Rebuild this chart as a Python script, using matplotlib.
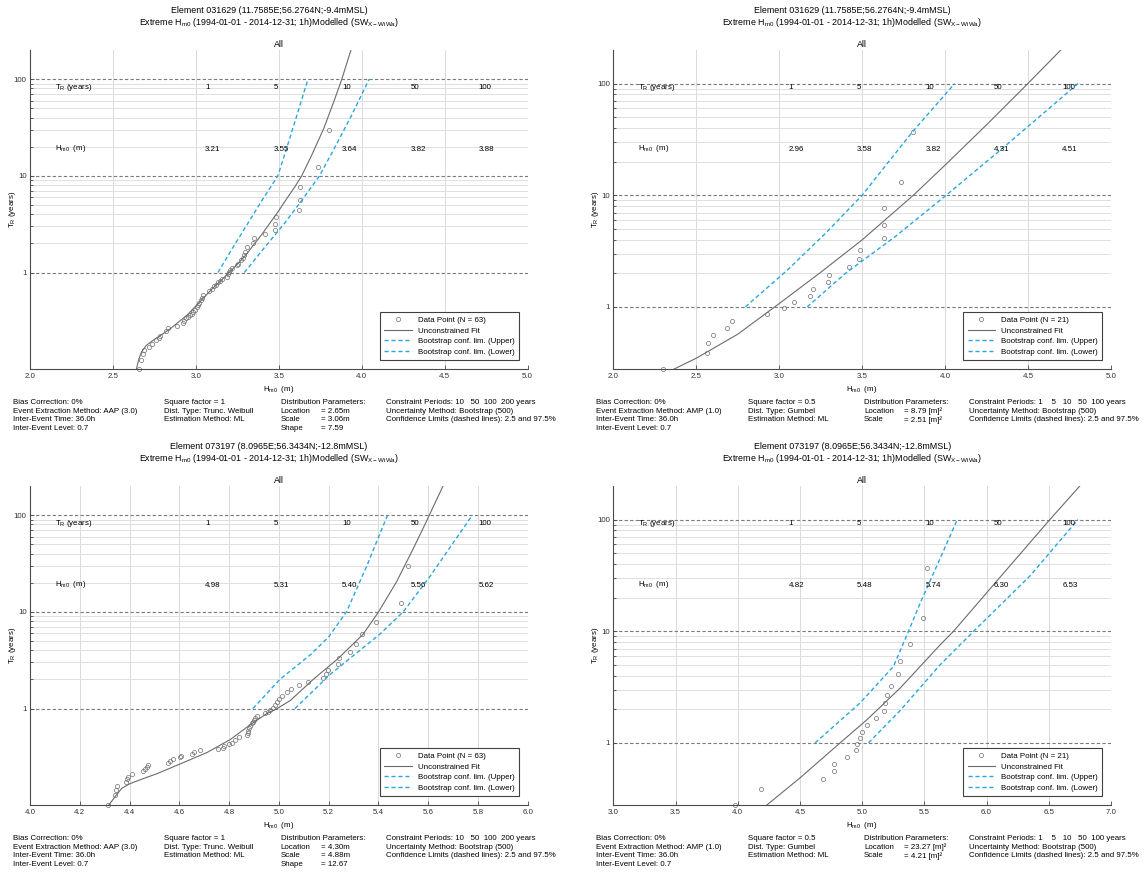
import matplotlib.pyplot as plt
from matplotlib.ticker import FixedLocator, NullFormatter

plt.rcParams['font.family'] = ['Liberation Sans', 'DejaVu Sans']
plt.rcParams['mathtext.default'] = 'regular'

FS = 5.7
FS_TITLE = 6.4
GRAY = '#6b6b6b'
BLUE = '#2aa6e0'

# return period table shown inside every panel
periods = ['1', '5', '10', '50', '100']

# ---- top left: element 031629, truncated Weibull ----
tl_hs = [2.657, 2.671, 2.679, 2.688, 2.716, 2.736, 2.762, 2.776, 2.786, 2.817, 2.833, 2.887, 2.921, 2.927,
         2.940, 2.950, 2.964, 2.974, 2.980, 2.994, 3.008, 3.014, 3.020, 3.028, 3.036, 3.044, 3.081, 3.095,
         3.109, 3.121, 3.135, 3.145, 3.159, 3.185, 3.196, 3.202, 3.206, 3.216, 3.246, 3.256, 3.270, 3.282,
         3.292, 3.296, 3.306, 3.343, 3.351, 3.417, 3.478, 3.478, 3.484, 3.623, 3.625, 3.627, 3.734, 3.802]
tl_tr = [0.100, 0.124, 0.143, 0.157, 0.170, 0.181, 0.199, 0.210, 0.223, 0.251, 0.265, 0.282, 0.303, 0.318,
         0.338, 0.344, 0.362, 0.377, 0.392, 0.414, 0.441, 0.461, 0.488, 0.515, 0.548, 0.583, 0.641, 0.682,
         0.721, 0.750, 0.791, 0.822, 0.863, 0.910, 0.962, 1.01, 1.07, 1.12, 1.20, 1.24, 1.35, 1.42,
         1.51, 1.64, 1.84, 2.03, 2.27, 2.51, 2.75, 3.16, 3.72, 4.42, 5.65, 7.71, 12.4, 29.9]
tl_fit_h = [2.641, 2.655, 2.672, 2.70, 2.75, 2.80, 2.85, 2.90, 2.95, 3.00, 3.05, 3.10, 3.15, 3.20,
            3.25, 3.30, 3.35, 3.40, 3.45, 3.50, 3.55, 3.60, 3.638, 3.70, 3.77, 3.83, 3.88, 3.935]
tl_fit_t = [0.100, 0.126, 0.151, 0.176, 0.204, 0.232, 0.266, 0.313, 0.367, 0.452, 0.556, 0.684, 0.822, 1.0,
            1.22, 1.51, 1.95, 2.51, 3.31, 4.37, 5.89, 7.85, 10.0, 16.6, 30.6, 57.5, 100, 200]
tl_up_h = [3.133, 3.22, 3.31, 3.40, 3.494, 3.55, 3.61, 3.676]
tl_up_t = [1, 1.78, 3.16, 5.62, 10, 20, 42.7, 100]
tl_lo_h = [3.292, 3.41, 3.53, 3.64, 3.745, 3.84, 3.94, 4.045]
tl_lo_t = [1, 1.78, 3.16, 5.62, 10, 20, 42.7, 100]
tl_levels = ['3.21', '3.55', '3.64', '3.82', '3.88']

# ---- top right: element 031629, Gumbel ----
tr_hs = [2.302, 2.565, 2.573, 2.603, 2.685, 2.714, 2.927, 3.026, 3.089, 3.185, 3.202, 3.296, 3.300,
         3.421, 3.482, 3.486, 3.629, 3.631, 3.633, 3.736, 3.805]
amp_tr = [0.277, 0.384, 0.473, 0.560, 0.648, 0.747, 0.857, 0.973, 1.10, 1.26, 1.44, 1.66, 1.93,
          2.26, 2.68, 3.25, 4.10, 5.40, 7.72, 13.1, 37.2]
tr_fit_h = [2.363, 2.5, 2.75, 3.0, 3.25, 3.5, 3.809, 4.0, 4.25, 4.499, 4.698]
tr_fit_t = [0.276, 0.347, 0.569, 1.07, 2.04, 3.98, 10, 18.6, 42.7, 100, 200]
tr_up_h = [2.796, 3.05, 3.28, 3.5, 3.65, 3.805, 4.058]
tr_up_t = [1, 2.14, 4.57, 10, 19.1, 37.2, 100]
tr_lo_h = [3.169, 3.4, 3.7, 4.007, 4.338, 4.802]
tr_lo_t = [1, 2.0, 4.27, 10, 25.7, 100]
tr_levels = ['2.96', '3.58', '3.82', '4.31', '4.51']

# ---- bottom left: element 073197, truncated Weibull ----
bl_hs = [4.313, 4.342, 4.346, 4.349, 4.384, 4.389, 4.392, 4.411, 4.456, 4.462, 4.470, 4.474, 4.555, 4.561,
         4.574, 4.604, 4.605, 4.651, 4.658, 4.684, 4.754, 4.775, 4.780, 4.798, 4.812, 4.822, 4.841, 4.872,
         4.875, 4.877, 4.881, 4.885, 4.891, 4.895, 4.899, 4.905, 4.912, 4.946, 4.955, 4.966, 4.976, 4.986,
         4.992, 4.999, 5.013, 5.033, 5.049, 5.082, 5.116, 5.176, 5.188, 5.197, 5.236, 5.240, 5.287, 5.311,
         5.334, 5.389, 5.492, 5.520]
bl_tr = [0.100, 0.127, 0.144, 0.160, 0.175, 0.185, 0.196, 0.209, 0.224, 0.237, 0.248, 0.259, 0.276, 0.289,
         0.299, 0.313, 0.327, 0.343, 0.356, 0.371, 0.382, 0.394, 0.413, 0.427, 0.443, 0.468, 0.506, 0.530,
         0.558, 0.590, 0.628, 0.664, 0.705, 0.733, 0.762, 0.805, 0.843, 0.889, 0.925, 0.962, 1.02, 1.08,
         1.17, 1.26, 1.36, 1.47, 1.59, 1.75, 1.89, 2.06, 2.30, 2.52, 2.87, 3.30, 3.82, 4.67,
         5.87, 7.87, 12.2, 30.0]
bl_fit_h = [4.316, 4.342, 4.369, 4.403, 4.456, 4.51, 4.604, 4.711, 4.805, 4.885, 4.952, 4.993, 5.046, 5.138,
            5.239, 5.339, 5.401, 5.473, 5.54, 5.594, 5.605, 5.66]
bl_fit_t = [0.1, 0.123, 0.150, 0.168, 0.189, 0.212, 0.268, 0.351, 0.479, 0.679, 0.889, 1.0, 1.21, 2.0,
            3.30, 5.87, 10, 20.4, 44.8, 86.9, 100, 200]
bl_up_h = [4.896, 5.004, 5.127, 5.2, 5.272, 5.353, 5.437]
bl_up_t = [1, 2.0, 3.60, 5.50, 10, 29.6, 100]
bl_lo_h = [5.065, 5.205, 5.406, 5.5, 5.607, 5.778]
bl_lo_t = [1, 2.24, 5.87, 10, 23.1, 100]
bl_levels = ['4.98', '5.31', '5.40', '5.56', '5.62']

# ---- bottom right: element 073197, Gumbel ----
br_hs = [3.979, 4.188, 4.684, 4.775, 4.775, 4.877, 4.952, 4.957, 4.979, 4.995, 5.043, 5.110, 5.174,
         5.185, 5.196, 5.233, 5.287, 5.308, 5.386, 5.491, 5.520]
br_fit_h = [4.233, 4.501, 4.823, 5.038, 5.306, 5.627, 5.735, 6.118, 6.509, 6.75]
br_fit_t = [0.277, 0.486, 1.0, 1.61, 3.10, 7.55, 10, 31.3, 100, 200]
br_up_h = [4.622, 4.984, 5.252, 5.373, 5.466, 5.627, 5.765]
br_up_t = [1, 2.28, 4.84, 10, 17.8, 44.9, 100]
br_lo_h = [5.051, 5.306, 5.627, 5.897, 6.353, 6.735]
br_lo_t = [1, 1.95, 5.01, 10, 31.6, 100]
br_levels = ['4.82', '5.48', '5.74', '6.30', '6.53']

title_031629 = 'Element 031629 (11.7585E;56.2764N;-9.4mMSL)'
title_073197 = 'Element 073197 (8.0965E;56.3434N;-12.8mMSL)'
title_2 = 'Extreme H$_{m0}$ (1994-01-01 - 2014-12-31; 1h)Modelled (SW$_{X-WiWa}$)'

weib_info = ['Square factor = 1', 'Dist. Type: Trunc. Weibull', 'Estimation Method: ML']
gumb_info = ['Square factor = 0.5', 'Dist. Type: Gumbel', 'Estimation Method: ML']
weib_names = ['Distribution Parameters:', 'Location', 'Scale', 'Shape']
gumb_names = ['Distribution Parameters:', 'Location', 'Scale']
tl_params = ['= 2.65m', '= 3.06m', '= 7.59']
tr_params = ['= 8.79 [m]²', '= 2.51 [m]²']
bl_params = ['= 4.30m', '= 4.88m', '= 12.67']
br_params = ['= 23.27 [m]²', '= 4.21 [m]²']


def draw(ax, title1, xlim, xticks, ylim, hs, tr, fit_h, fit_t, up_h, up_t, lo_h, lo_t,
         levels, method, info, names, params, constraint):
    ax.set_yscale('log')
    ax.set_xlim(xlim)
    ax.set_ylim(ylim)
    ax.set_xticks(xticks)
    ax.set_xticklabels(['%.1f' % v for v in xticks])
    ax.set_yticks([1, 10, 100])
    ax.set_yticklabels(['1', '10', '100'])
    ax.yaxis.set_minor_locator(FixedLocator([2, 3, 4, 5, 6, 7, 8, 9, 20, 30, 40, 50, 60, 70, 80, 90]))
    ax.yaxis.set_minor_formatter(NullFormatter())
    ax.set_axisbelow(True)
    ax.xaxis.grid(True, color='#dadada', lw=0.7)
    ax.yaxis.grid(True, which='minor', color='#e0e0e0', lw=0.7)
    ax.yaxis.grid(True, which='major', color='#7a7a7a', lw=0.8, linestyle=(0, (3, 2)))
    for s in ['top', 'right']:
        ax.spines[s].set_visible(False)
    for s in ['left', 'bottom']:
        ax.spines[s].set_color('#4a4a4a')
        ax.spines[s].set_linewidth(0.8)
    ax.tick_params(which='both', direction='in', labelsize=FS, colors='#4a4a4a',
                   labelcolor='#333333', width=0.6, pad=2.5)
    ax.tick_params(which='major', length=3)
    ax.tick_params(which='minor', length=2.5)

    n = len(tr) if len(tr) == 21 else 63
    ax.plot(hs, tr, 'o', ms=3, mfc='none', mec='#707070', mew=0.5, clip_on=False,
            label='Data Point (N = %d)' % n)
    ax.plot(fit_h, fit_t, color=GRAY, lw=0.8, label='Unconstrained Fit')
    ax.plot(up_h, up_t, color=BLUE, lw=1.0, linestyle=(0, (3, 2)), label='Bootstrap conf. lim. (Upper)')
    ax.plot(lo_h, lo_t, color=BLUE, lw=1.0, linestyle=(0, (3, 2)), label='Bootstrap conf. lim. (Lower)')

    leg = ax.legend(loc='lower right', bbox_to_anchor=(0.982, 0.029), fontsize=FS, fancybox=False,
                    framealpha=1, edgecolor='#404040', handlelength=3.5, handletextpad=0.7,
                    labelspacing=0.38, borderpad=0.55, borderaxespad=0)
    leg.get_frame().set_linewidth(0.8)

    tf = ax.transAxes
    ax.text(0.48, 1.123, title1, transform=tf, ha='center', va='center', fontsize=FS_TITLE)
    ax.text(0.48, 1.0865, title_2, transform=tf, ha='center', va='center', fontsize=FS_TITLE)
    ax.text(0.5, 1.016, 'All', transform=tf, ha='center', va='center', fontsize=FS_TITLE)
    ax.text(0.05, 0.882, 'T$_R$ (years)', transform=tf, va='center', fontsize=FS)
    ax.text(0.05, 0.69, 'H$_{m0}$  (m)', transform=tf, va='center', fontsize=FS)
    for i in range(5):
        ax.text(0.352 + 0.1375 * i, 0.882, periods[i], transform=tf, va='center', fontsize=FS)
        ax.text(0.352 + 0.1375 * i, 0.688, levels[i], transform=tf, va='center', fontsize=FS)
    ax.text(0.5, -0.063, 'H$_{m0}$  (m)', transform=tf, ha='center', va='center', fontsize=FS)
    ax.text(-0.035, 0.5, 'T$_R$ (years)', transform=tf, ha='center', va='center', rotation=90,
            fontsize=FS)

    rows = [-0.1034, -0.131, -0.158, -0.185]
    col1 = ['Bias Correction: 0%', 'Event Extraction Method: ' + method,
            'Inter-Event Time: 36.0h', 'Inter-Event Level: 0.7']
    col4 = ['Constraint Periods: ' + constraint, 'Uncertainty Method: Bootstrap (500)',
            'Confidence Limits (dashed lines): 2.5 and 97.5%']
    for i, t in enumerate(col1):
        ax.text(-0.0345, rows[i], t, transform=tf, va='center', fontsize=FS)
    for i, t in enumerate(info):
        ax.text(0.270, rows[i], t, transform=tf, va='center', fontsize=FS)
    for i, t in enumerate(names):
        ax.text(0.504, rows[i], t, transform=tf, va='center', fontsize=FS)
    for i, t in enumerate(params):
        ax.text(0.584, rows[i + 1], t, transform=tf, va='center', fontsize=FS)
    for i, t in enumerate(col4):
        ax.text(0.715, rows[i], t, transform=tf, va='center', fontsize=FS)


fig = plt.figure(figsize=(11.46, 8.72), dpi=100)
w, h = 0.4342, 0.3662
ax_tl = fig.add_axes([0.0262, 0.5765, w, h])
ax_tr = fig.add_axes([0.5352, 0.5765, w, h])
ax_bl = fig.add_axes([0.0262, 0.0765, w, h])
ax_br = fig.add_axes([0.5352, 0.0765, w, h])

weib_ticks_a = [2.0, 2.5, 3.0, 3.5, 4.0, 4.5, 5.0]
weib_ticks_b = [4.0, 4.2, 4.4, 4.6, 4.8, 5.0, 5.2, 5.4, 5.6, 5.8, 6.0]
gumb_ticks_b = [3.0, 3.5, 4.0, 4.5, 5.0, 5.5, 6.0, 6.5, 7.0]

draw(ax_tl, title_031629, (2, 5), weib_ticks_a, (0.1, 200), tl_hs, tl_tr, tl_fit_h, tl_fit_t,
     tl_up_h, tl_up_t, tl_lo_h, tl_lo_t, tl_levels, 'AAP (3.0)', weib_info, weib_names, tl_params,
     '10   50  100  200 years')
draw(ax_tr, title_031629, (2, 5), weib_ticks_a, (0.276, 200), tr_hs, amp_tr, tr_fit_h, tr_fit_t,
     tr_up_h, tr_up_t, tr_lo_h, tr_lo_t, tr_levels, 'AMP (1.0)', gumb_info, gumb_names, tr_params,
     '1    5   10   50  100 years')
draw(ax_bl, title_073197, (4, 6), weib_ticks_b, (0.1, 200), bl_hs, bl_tr, bl_fit_h, bl_fit_t,
     bl_up_h, bl_up_t, bl_lo_h, bl_lo_t, bl_levels, 'AAP (3.0)', weib_info, weib_names, bl_params,
     '10   50  100  200 years')
draw(ax_br, title_073197, (3, 7), gumb_ticks_b, (0.276, 200), br_hs, amp_tr, br_fit_h, br_fit_t,
     br_up_h, br_up_t, br_lo_h, br_lo_t, br_levels, 'AMP (1.0)', gumb_info, gumb_names, br_params,
     '1    5   10   50  100 years')

fig.savefig('out.png', dpi=100)
